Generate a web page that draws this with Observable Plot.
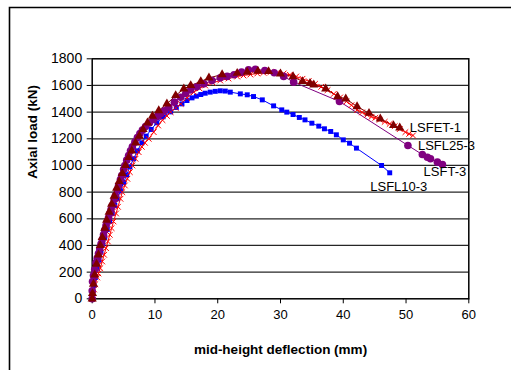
<!DOCTYPE html>
<html>
<head>
<meta charset="utf-8">
<script src="https://cdn.jsdelivr.net/npm/d3@7"></script>
<script src="https://cdn.jsdelivr.net/npm/@observablehq/plot@0.6"></script>
<style>
  html, body { margin: 0; padding: 0; background: #fff; }
  #chart { width: 511px; height: 370px; }
</style>
</head>
<body>
<div id="chart"></div>
<script>
// LSFL10-3 (blue squares)
const blueX = [0,0.1,0.3,0.5,0.8,1.1,1.4,1.7,2.0,2.4,2.8,3.2,3.6,4.0,4.5,5.0,5.5,6.0,6.6,7.2,7.9,8.6,9.4,10.3,11.3,12.5,13.4,14.3,15.1,15.9,16.6,17.3,18.0,18.8,19.6,20.4,21.2,22.0,23.6,24.7,25.7,27.1,28.9,30.2,31.0,32.0,33.0,33.9,35.0,36.1,37.0,38.0,38.9,40.0,41.0,42.1,46.1,47.4];
const blueY = [0,40,100,160,230,290,350,410,460,520,580,640,700,750,810,870,930,990,1050,1110,1170,1220,1270,1320,1365,1402,1435,1462,1487,1507,1520,1532,1542,1550,1556,1560,1558,1550,1537,1530,1517,1492,1447,1417,1400,1382,1360,1342,1317,1295,1275,1255,1230,1192,1167,1130,1000,945];

// red crosses
const redX = [0,0.1,0.3,0.5,0.8,1.0,1.3,1.6,1.9,2.2,2.5,2.8,3.1,3.4,3.8,4.1,4.5,4.8,5.2,5.6,6.0,6.4,6.9,7.4,7.9,8.4,9.0,9.8,10.5,11.2,11.9,12.5,13.3,14.1,15.1,16.2,17.1,18.0,19.2,20.4,21.7,23.1,24.1,25.2,26.3,27.3,28.4,29.5,30.5,31.5,32.5,33.5,34.5,35.5,36.5,37.5,38.5,39.5,40.5,41.3,42.2,43.0,43.8,44.5,45.1,45.8,46.6,47.4,48.2,49.0,49.9,50.5,51.1];
const redY = [0,30,70,110,160,190,230,280,330,380,430,480,530,580,640,690,750,800,850,900,950,1000,1050,1100,1140,1170,1200,1250,1300,1340,1372,1400,1432,1462,1505,1550,1578,1600,1620,1637,1652,1667,1675,1682,1690,1695,1700,1698,1690,1680,1667,1650,1632,1612,1590,1565,1537,1510,1480,1452,1417,1398,1380,1365,1357,1343,1327,1312,1295,1273,1250,1237,1225];

// dark red triangles
const triX = [0,0.05,0.2,0.4,0.7,1.0,1.3,1.6,2.0,2.3,2.7,3.1,3.5,3.9,4.3,4.8,5.3,5.8,6.3,6.9,7.5,8.1,8.8,9.6,10.6,11.9,13.3,14.6,15.7,17.3,18.6,20.7,23.1,24.7,26.4,28.1,30.0,32.0,33.5,34.7,35.3,37.2,39.1,40.4,42.2,44.1,45.9,48.0,49.0];
const triY = [0,40,110,180,260,330,400,460,530,590,650,710,770,830,880,940,1000,1060,1110,1170,1220,1270,1320,1370,1412,1462,1525,1575,1600,1630,1657,1682,1692,1700,1707,1705,1687,1667,1630,1617,1605,1575,1517,1500,1442,1392,1350,1300,1282];

// purple circles
const purX = [0,0,0.05,0.2,0.4,0.6,0.8,1.0,1.2,1.4,1.6,1.8,2.0,2.2,2.4,2.6,2.8,3.0,3.2,3.5,3.7,4.0,4.2,4.5,4.7,5.0,5.2,5.5,5.8,6.1,6.4,6.8,7.2,7.6,8.0,8.5,9.1,9.8,10.4,10.9,11.5,12.2,13.1,14.1,14.9,15.7,16.7,17.8,19.1,20.4,21.5,22.6,23.8,24.9,26.0,27.5,29.0,30.5,32.1,39.4,50.3,52.6,53.4,53.9,55.0,55.8];
const purY = [0,60,130,175,220,270,305,340,375,410,445,480,515,550,580,610,640,670,700,745,775,820,850,895,925,970,1000,1040,1075,1110,1140,1175,1210,1240,1265,1292,1318,1345,1368,1387,1410,1437,1475,1512,1540,1567,1590,1612,1637,1657,1668,1680,1700,1718,1722,1712,1695,1668,1625,1480,1150,1082,1062,1050,1025,1007];

const labelNames = ["LSFET-1", "LSFL25-3", "LSFT-3", "LSFL10-3"];
const labelX = [50.6, 51.9, 52.8, 44.3];
const labelY = [1282, 1150, 950, 839];

const xTicks = [0,10,20,30,40,50,60];
const yTicks = [0,200,400,600,800,1000,1200,1400,1600,1800];
const gridY = [200,400,600,800,1000,1200,1400,1600];
const xTitle = "mid-height deflection (mm)";
const yTitle = "Axial load (kN)";

const zip = (xs, ys) => xs.map((x, i) => ({x, y: ys[i]}));
const blue = zip(blueX, blueY);
const red = zip(redX, redY);
const tri = zip(triX, triY);
const pur = zip(purX, purY);
const labels = labelNames.map((t, i) => ({t, x: labelX[i], y: labelY[i]}));

const font = "Liberation Sans, Arial, sans-serif";

const chart = Plot.plot({
  width: 511,
  height: 370,
  marginLeft: 91.7,
  marginRight: 42.7,
  marginTop: 58.3,
  marginBottom: 71.7,
  style: {fontFamily: font, background: "#fff", overflow: "visible"},
  x: {domain: [0, 60]},
  y: {domain: [0, 1800]},
  marks: [
    Plot.ruleY(gridY, {stroke: "#000", strokeWidth: 1.2, strokeOpacity: 0.85}),
    Plot.axisX({ticks: xTicks, tickSize: 5, tickPadding: 6, fontSize: 13, color: "#000", label: null, tickFormat: d3.format("d")}),
    Plot.axisY({ticks: yTicks, tickSize: 5, tickPadding: 5, fontSize: 14, color: "#000", label: null, tickFormat: d3.format("d")}),
    Plot.frame({stroke: "#000", strokeWidth: 1.5}),
    Plot.line(blue, {x: "x", y: "y", stroke: "#0000ff", strokeWidth: 1}),
    Plot.line(red, {x: "x", y: "y", stroke: "#ff0000", strokeWidth: 1}),
    Plot.line(pur, {x: "x", y: "y", stroke: "#800080", strokeWidth: 1}),
    Plot.line(tri, {x: "x", y: "y", stroke: "#800000", strokeWidth: 1}),
    Plot.dot(blue, {x: "x", y: "y", symbol: "square", r: 2.8, fill: "#0000ff", stroke: "none"}),
    Plot.dot(red, {x: "x", y: "y", symbol: "times", r: 2.7, stroke: "#ff0000", strokeWidth: 1, fill: "none"}),
    Plot.dot(pur, {x: "x", y: "y", symbol: "circle", r: 3.8, fill: "#800080", stroke: "none"}),
    Plot.dot(tri, {x: "x", y: "y", symbol: "triangle", r: 3.4, fill: "#800000", stroke: "none"}),
    Plot.text(labels, {x: "x", y: "y", text: "t", textAnchor: "start", fontSize: 13, fill: "#000"}),
    Plot.text([yTitle], {frameAnchor: "left", dx: -60, rotate: -90, fontSize: 13.5, fontWeight: "bold", fill: "#000"}),
    Plot.text([xTitle], {frameAnchor: "bottom", dy: 51, fontSize: 13.5, fontWeight: "bold", fill: "#000", lineAnchor: "middle"})
  ]
});

// outer chart-area border (decorative frame)
const svg = d3.select(chart);
svg.append("path")
  .attr("d", "M9.5,370 V7.5 H511")
  .attr("fill", "none")
  .attr("stroke", "#000")
  .attr("stroke-width", 1.6);

document.getElementById("chart").appendChild(chart);
</script>
</body>
</html>
